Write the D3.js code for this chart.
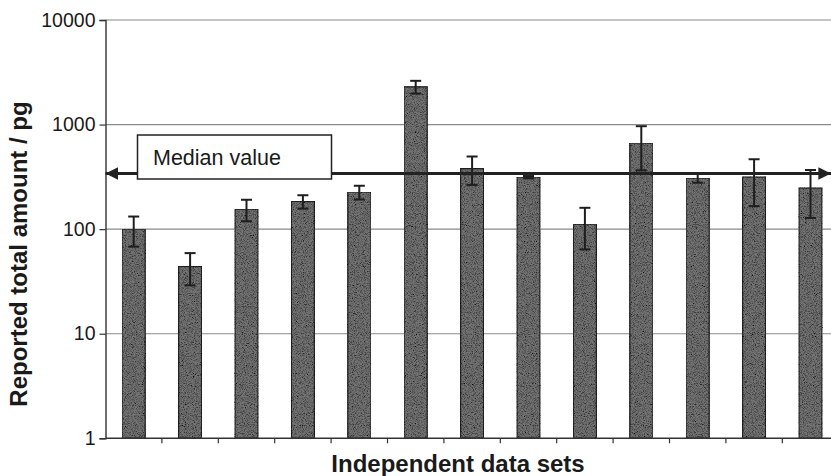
<!DOCTYPE html>
<html>
<head>
<meta charset="utf-8">
<script src="https://cdn.jsdelivr.net/npm/d3@7"></script>
<style>
  html, body { margin: 0; padding: 0; background: #fff; }
  svg { display: block; font-family: "Liberation Sans", Arial, sans-serif; }
</style>
</head>
<body>
<svg id="chart" width="831" height="476"></svg>
<script>
// Independent data sets (one bar each) with reported totals in pg
const dataSets = ["1", "2", "3", "4", "5", "6", "7", "8", "9", "10", "11", "12", "13"];
const reportedTotal = [100, 44, 155, 184, 226, 2300, 380, 314, 112, 665, 308, 316, 248];
const uncertainty   = [32, 15, 36, 27, 34, 320, 115, 8, 48, 300, 30, 150, 120];
const medianValue = 340;
const yTickValues = [1, 10, 100, 1000, 10000];

const svg = d3.select("#chart");
const margin = { left: 105.5, top: 20, bottom: 438.3 };
const plotRight = 838.7;

const x = d3.scaleBand()
  .domain(dataSets)
  .range([margin.left, plotRight])
  .paddingInner(0.59)
  .paddingOuter(0.295);

const y = d3.scaleLog()
  .domain([1, 10000])
  .range([margin.bottom, margin.top]);

// speckled bar texture
const defs = svg.append("defs");
const grain = defs.append("filter").attr("id", "grain")
  .attr("x", 0).attr("y", 0).attr("width", 1).attr("height", 1);
grain.append("feTurbulence").attr("type", "fractalNoise")
  .attr("baseFrequency", 1.1).attr("numOctaves", 2).attr("seed", 7).attr("result", "noise");
grain.append("feColorMatrix").attr("in", "noise").attr("type", "matrix")
  .attr("values", "2.2 0 0 0 -0.35  2.2 0 0 0 -0.35  2.2 0 0 0 -0.35  0 0 0 0 1")
  .attr("result", "gray");
grain.append("feBlend").attr("in", "SourceGraphic").attr("in2", "gray").attr("mode", "multiply").attr("result", "mix");
grain.append("feComposite").attr("in", "mix").attr("in2", "SourceGraphic").attr("operator", "in");

const arrow = (id, orient) => defs.append("marker")
  .attr("id", id).attr("viewBox", "0 0 10 10")
  .attr("refX", 10).attr("refY", 5)
  .attr("markerWidth", 4.2).attr("markerHeight", 4.2)
  .attr("markerUnits", "strokeWidth")
  .attr("orient", orient)
  .append("path").attr("d", "M0,0 L10,5 L0,10 Z").attr("fill", "#222");
arrow("arrowEnd", "auto");
arrow("arrowStart", "auto-start-reverse");

// gridlines
svg.append("g")
  .selectAll("line")
  .data(yTickValues.slice(1))
  .join("line")
  .attr("x1", margin.left).attr("x2", plotRight)
  .attr("y1", d => y(d)).attr("y2", d => y(d))
  .attr("stroke", "#8a8a8a").attr("stroke-width", 1.2);

// bars
svg.append("g")
  .selectAll("rect")
  .data(dataSets)
  .join("rect")
  .attr("x", d => x(d))
  .attr("width", x.bandwidth())
  .attr("y", (d, i) => y(reportedTotal[i]))
  .attr("height", (d, i) => y(1) - y(reportedTotal[i]))
  .attr("fill", "#747474")
  .attr("stroke", "#262626")
  .attr("stroke-width", 1.4)
  .attr("filter", "url(#grain)");

// error bars
const capHalf = 5.5;
const eb = svg.append("g").attr("stroke", "#1e1e1e").attr("stroke-width", 2)
  .selectAll("g").data(dataSets).join("g");
eb.append("line")
  .attr("x1", d => x(d) + x.bandwidth() / 2).attr("x2", d => x(d) + x.bandwidth() / 2)
  .attr("y1", (d, i) => y(reportedTotal[i] + uncertainty[i]))
  .attr("y2", (d, i) => y(reportedTotal[i] - uncertainty[i]));
eb.append("line")
  .attr("x1", d => x(d) + x.bandwidth() / 2 - capHalf).attr("x2", d => x(d) + x.bandwidth() / 2 + capHalf)
  .attr("y1", (d, i) => y(reportedTotal[i] + uncertainty[i]))
  .attr("y2", (d, i) => y(reportedTotal[i] + uncertainty[i]));
eb.append("line")
  .attr("x1", d => x(d) + x.bandwidth() / 2 - capHalf).attr("x2", d => x(d) + x.bandwidth() / 2 + capHalf)
  .attr("y1", (d, i) => y(reportedTotal[i] - uncertainty[i]))
  .attr("y2", (d, i) => y(reportedTotal[i] - uncertainty[i]));

// y axis
const yAxis = svg.append("g")
  .attr("transform", `translate(${margin.left},0)`)
  .call(d3.axisLeft(y).tickValues(yTickValues).tickFormat(d3.format("d")).tickSize(6).tickPadding(4));
yAxis.select(".domain").attr("stroke", "#333").attr("stroke-width", 1.4);
yAxis.selectAll(".tick line").attr("stroke", "#333").attr("stroke-width", 1.2);
yAxis.selectAll(".tick text")
  .attr("font-family", "Liberation Sans, Arial, sans-serif")
  .attr("font-size", 19.5).attr("fill", "#1a1a1a");

// x axis: ticks between categories, no labels
const xAxisG = svg.append("g");
xAxisG.append("line")
  .attr("x1", margin.left).attr("x2", plotRight)
  .attr("y1", y(1)).attr("y2", y(1))
  .attr("stroke", "#333").attr("stroke-width", 1.4);
xAxisG.selectAll("line.tick")
  .data(dataSets.slice(1))
  .join("line").attr("class", "tick")
  .attr("x1", d => x(d) - (x.step() - x.bandwidth()) / 2)
  .attr("x2", d => x(d) - (x.step() - x.bandwidth()) / 2)
  .attr("y1", y(1)).attr("y2", y(1) + 5)
  .attr("stroke", "#333").attr("stroke-width", 1.2);

// median line with arrows at both ends
svg.append("line")
  .attr("x1", margin.left).attr("x2", 831)
  .attr("y1", y(medianValue)).attr("y2", y(medianValue))
  .attr("stroke", "#222").attr("stroke-width", 3)
  .attr("marker-start", "url(#arrowStart)")
  .attr("marker-end", "url(#arrowEnd)");

// median label box
const lbl = svg.append("g");
lbl.append("rect")
  .attr("x", 137.5).attr("y", 135)
  .attr("width", 194).attr("height", 44)
  .attr("fill", "#fff").attr("stroke", "#222").attr("stroke-width", 1.5);
lbl.append("text")
  .attr("x", 153).attr("y", 165)
  .attr("font-size", 21.5).attr("fill", "#1a1a1a")
  .text("Median value");

// axis titles
svg.append("text")
  .attr("x", 458).attr("y", 471.5)
  .attr("text-anchor", "middle")
  .attr("font-size", 24).attr("font-weight", "bold").attr("fill", "#1a1a1a")
  .text("Independent data sets");
svg.append("text")
  .attr("transform", "translate(27,254) rotate(-90)")
  .attr("text-anchor", "middle")
  .attr("font-size", 24).attr("font-weight", "bold").attr("fill", "#1a1a1a")
  .text("Reported total amount / pg");
</script>
</body>
</html>
